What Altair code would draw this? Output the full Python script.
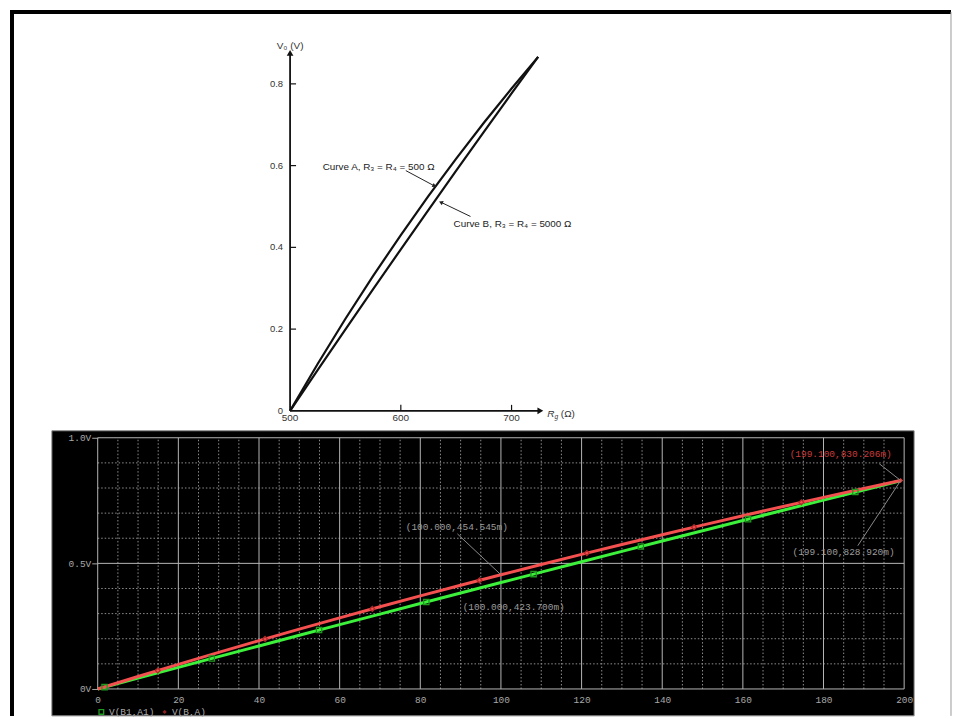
import altair as alt
import pandas as pd

# ---------------- upper panel: bridge output V0 vs gauge resistance
r_ohm = [500, 525, 550, 575, 600, 625, 650, 675, 700, 724]
curve_a = [0.0, 0.1154, 0.2253, 0.3302, 0.4302, 0.5258, 0.6172, 0.7048, 0.7887, 0.866]
curve_b = [0.0, 0.1002, 0.1994, 0.2978, 0.3952, 0.4918, 0.5876, 0.6825, 0.7766, 0.866]
top_x_ticks = [500, 600, 700]
top_y_ticks = [0.0, 0.2, 0.4, 0.6, 0.8]
top_y_labels = ["0", "0.2", "0.4", "0.6", "0.8"]
label_a = "Curve A, R\u2083 = R\u2084 = 500 \u03a9"
label_b = "Curve B, R\u2083 = R\u2084 = 5000 \u03a9"

# ---------------- lower panel: simulation traces
sim_x = [0, 10, 20, 30, 40, 50, 60, 70, 80, 90, 100, 110, 120, 130, 140, 150,
         160, 170, 180, 190, 199.1]
v_ba = [0, 0.0495, 0.0980, 0.1456, 0.1923, 0.2381, 0.2830, 0.3271, 0.3704, 0.4128,
        0.4545, 0.4955, 0.5357, 0.5752, 0.6140, 0.6522, 0.6897, 0.7265, 0.7627,
        0.7983, 0.8302]
v_b1a1 = [0, 0.0430, 0.0859, 0.1287, 0.1713, 0.2137, 0.2560, 0.2981, 0.3401, 0.3820,
          0.4237, 0.4652, 0.5066, 0.5479, 0.5890, 0.6299, 0.6707, 0.7114, 0.7519,
          0.7922, 0.8289]
b1a1_mark_x = [1.7, 28.3, 54.9, 81.5, 108.1, 134.7, 161.3, 187.9]
b1a1_mark_y = [0.0073, 0.1214, 0.2344, 0.3464, 0.4573, 0.5672, 0.6760, 0.7838]
ba_mark_x = [14.9, 41.5, 68.1, 94.7, 121.3, 147.9, 174.5]
ba_mark_y = [0.0734, 0.1992, 0.3188, 0.4325, 0.5409, 0.6442, 0.7429]
sim_x_ticks = [0, 20, 40, 60, 80, 100, 120, 140, 160, 180, 200]
sim_x_minor = [v for v in range(5, 200, 5) if v % 20 != 0]
sim_y_ticks = [0.0, 0.5, 1.0]
sim_y_minor = [0.1, 0.2, 0.3, 0.4, 0.6, 0.7, 0.8, 0.9]
cursor_labels = ["(100.000,454.545m)", "(100.000,423.700m)",
                 "(199.100,830.206m)", "(199.100,828.920m)"]
legend_names = ["V(B1,A1)", "V(B,A)"]

# ================= upper chart =================
SANS = "Liberation Sans"
xs_t = alt.Scale(domain=[326.3, 1054.5], nice=False, zero=False)
ys_t = alt.Scale(domain=[0, 0.878], nice=False, zero=False)


def TX(f):
    return alt.X(f, type="quantitative", scale=xs_t, axis=None)


def TY(f):
    return alt.Y(f, type="quantitative", scale=ys_t, axis=None)


frame_left = alt.Chart(pd.DataFrame({"r": [248.9], "v": [0.9756], "v2": [-0.7463]})).mark_rule(
    color="black", strokeWidth=4).encode(x=TX("r"), y=TY("v"), y2="v2")
frame_top = alt.Chart(pd.DataFrame({"r": [247.1], "r2": [1096.8], "v": [0.9756]})).mark_rule(
    color="black", strokeWidth=4).encode(x=TX("r"), x2="r2", y=TY("v"))
frame_right = alt.Chart(pd.DataFrame({"r": [1096.8], "v": [0.9756], "v2": [-0.7463]})).mark_rule(
    color="#9a9a9a", strokeWidth=1).encode(x=TX("r"), y=TY("v"), y2="v2")

curves_df = pd.DataFrame({"r": r_ohm * 2, "v": curve_a + curve_b,
                          "c": ["A"] * len(r_ohm) + ["B"] * len(r_ohm)})
curves = alt.Chart(curves_df).mark_line(color="#111", strokeWidth=2.2).encode(
    x=TX("r"), y=TY("v"), detail="c:N")

yaxis_line = alt.Chart(pd.DataFrame({"r": [500], "v": [0], "v2": [0.872]})).mark_rule(
    color="#111", strokeWidth=1.8).encode(x=TX("r"), y=TY("v"), y2="v2")
xaxis_line = alt.Chart(pd.DataFrame({"r": [500], "r2": [725], "v": [0]})).mark_rule(
    color="#111", strokeWidth=1.8).encode(x=TX("r"), x2="r2", y=TY("v"))
arrow_up = alt.Chart(pd.DataFrame({"r": [500], "v": [0.876]})).mark_point(
    shape="triangle-up", filled=True, color="#111", size=45, opacity=1).encode(x=TX("r"), y=TY("v"))
arrow_right = alt.Chart(pd.DataFrame({"r": [726], "v": [0]})).mark_point(
    shape="triangle-right", filled=True, color="#111", size=45, opacity=1).encode(x=TX("r"), y=TY("v"))

ytick_df = pd.DataFrame({"r": 500, "v": top_y_ticks[1:]})
yticks = alt.Chart(ytick_df).mark_rule(color="#111", strokeWidth=1.2, x2Offset=6).encode(
    x=TX("r"), x2="r", y=TY("v"))
xtick_df = pd.DataFrame({"r": top_x_ticks[1:], "v": 0})
xticks = alt.Chart(xtick_df).mark_rule(color="#111", strokeWidth=1.2, y2Offset=-6).encode(
    x=TX("r"), y=TY("v"), y2="v")

ylab = alt.Chart(pd.DataFrame({"r": 500, "v": top_y_ticks, "t": top_y_labels})).mark_text(
    align="right", baseline="middle", dx=-7, font=SANS, fontSize=9.5, color="#333").encode(
    x=TX("r"), y=TY("v"), text="t:N")
xlab = alt.Chart(pd.DataFrame({"r": top_x_ticks, "v": 0, "t": [str(t) for t in top_x_ticks]})).mark_text(
    align="center", baseline="middle", dy=7, font=SANS, fontSize=10, color="#333").encode(
    x=TX("r"), y=TY("v"), text="t:N")

title_v = alt.Chart(pd.DataFrame({"r": [500], "v": [0.893], "t": ["V\u2080 (V)"]})).mark_text(
    align="center", baseline="middle", font=SANS, fontSize=10, color="#333").encode(
    x=TX("r"), y=TY("v"), text="t:N")
title_r = alt.Chart(pd.DataFrame({"r": [732.2], "v": [-0.008], "t": ["R"]})).mark_text(
    align="left", baseline="middle", font=SANS, fontSize=10, fontStyle="italic", color="#333").encode(
    x=TX("r"), y=TY("v"), text="t:N")
title_r_sub = alt.Chart(pd.DataFrame({"r": [738.8], "v": [-0.008], "t": ["g"]})).mark_text(
    align="left", baseline="middle", dy=3, font=SANS, fontSize=6.5, fontStyle="italic", color="#333").encode(
    x=TX("r"), y=TY("v"), text="t:N")
title_r_unit = alt.Chart(pd.DataFrame({"r": [744.5], "v": [-0.008], "t": ["(\u03a9)"]})).mark_text(
    align="left", baseline="middle", font=SANS, fontSize=10, color="#333").encode(
    x=TX("r"), y=TY("v"), text="t:N")

ann_text = alt.Chart(pd.DataFrame({"r": [529.4, 647.6], "v": [0.5976, 0.4568],
                                   "t": [label_a, label_b]})).mark_text(
    align="left", baseline="middle", font=SANS, fontSize=9.9, color="#222").encode(
    x=TX("r"), y=TY("v"), text="t:N")
ann_lines = alt.Chart(pd.DataFrame({"r": [604.5, 662.9], "v": [0.5878, 0.4756],
                                    "r2": [630.0, 636.5], "v2": [0.5508, 0.5100]})).mark_rule(
    color="#222", strokeWidth=1).encode(x=TX("r"), y=TY("v"), x2="r2", y2="v2")
ann_heads = alt.Chart(pd.DataFrame({"r": [630.4, 636.2], "v": [0.5503, 0.5103],
                                    "a": [116.6, 295.8]})).mark_point(
    shape="triangle-up", filled=True, color="#222", size=22, opacity=1).encode(
    x=TX("r"), y=TY("v"), angle=alt.Angle("a:Q", scale=None))

top = alt.layer(frame_left, frame_top, frame_right, curves, yaxis_line, xaxis_line,
                arrow_up, arrow_right, yticks, xticks, ylab, xlab, title_v, title_r,
                title_r_sub, title_r_unit, ann_lines, ann_heads, ann_text).properties(
    width=809, height=360)

# ================= lower chart =================
MONO = "Liberation Mono"
xs_b = alt.Scale(domain=[0, 200], nice=False, zero=False)
ys_b = alt.Scale(domain=[0, 1], nice=False, zero=False)
AX_X = alt.Axis(values=sim_x_ticks, grid=False, domain=False, ticks=False, labelPadding=6,
                labelFont=MONO, labelFontSize=9.5, labelColor="#a8a8a8", title=None, zindex=1,
                labelFlush=False)
AX_Y = alt.Axis(values=sim_y_ticks, grid=False, domain=False, tickSize=6, tickColor="#a8a8a8",
                labelPadding=1, labelFont=MONO, labelFontSize=9.5, labelColor="#a8a8a8",
                title=None, zindex=1, labelFlush=False,
                labelExpr="datum.value == 0 ? '0V' : format(datum.value, '.1f') + 'V'")


def BX(f):
    return alt.X(f, type="quantitative", scale=xs_b, axis=AX_X)


def BY(f):
    return alt.Y(f, type="quantitative", scale=ys_b, axis=AX_Y)


panel = alt.Chart(pd.DataFrame({"x": [-11.37], "x2": [202.47], "y": [1.0278], "y2": [-0.1071]})).mark_rect(
    fill="black", stroke="#8c8c8c", strokeWidth=1).encode(x=BX("x"), x2="x2", y=BY("y"), y2="y2")

minor_v = alt.Chart(pd.DataFrame({"x": sim_x_minor, "y": 0, "y2": 1})).mark_rule(
    color="#8f8f8f", strokeWidth=1, strokeDash=[1.5, 2]).encode(x=BX("x"), y=BY("y"), y2="y2")
minor_h = alt.Chart(pd.DataFrame({"y": sim_y_minor, "x": 0, "x2": 200})).mark_rule(
    color="#8f8f8f", strokeWidth=1, strokeDash=[1.5, 2]).encode(y=BY("y"), x=BX("x"), x2="x2")
major_v = alt.Chart(pd.DataFrame({"x": sim_x_ticks, "y": 0, "y2": 1})).mark_rule(
    color="#b5b5b5", strokeWidth=1).encode(x=BX("x"), y=BY("y"), y2="y2")
major_h = alt.Chart(pd.DataFrame({"y": sim_y_ticks, "x": 0, "x2": 200})).mark_rule(
    color="#b5b5b5", strokeWidth=1).encode(y=BY("y"), x=BX("x"), x2="x2")

green_line = alt.Chart(pd.DataFrame({"x": sim_x, "y": v_b1a1})).mark_line(
    color="#3cf03c", strokeWidth=3).encode(x=BX("x"), y=BY("y"))
red_line = alt.Chart(pd.DataFrame({"x": sim_x, "y": v_ba})).mark_line(
    color="#f45050", strokeWidth=3).encode(x=BX("x"), y=BY("y"))
green_marks = alt.Chart(pd.DataFrame({"x": b1a1_mark_x, "y": b1a1_mark_y})).mark_point(
    shape="square", filled=False, color="#1f9a1f", strokeWidth=1.3, size=28, opacity=1).encode(
    x=BX("x"), y=BY("y"))
red_marks = alt.Chart(pd.DataFrame({"x": ba_mark_x, "y": ba_mark_y})).mark_point(
    shape="diamond", filled=False, color="#b02a2a", strokeWidth=1.3, size=24, opacity=1).encode(
    x=BX("x"), y=BY("y"))
end_mark = alt.Chart(pd.DataFrame({"x": [199.1], "y": [v_ba[-1]]})).mark_point(
    shape="diamond", filled=True, color="#e04040", size=26, opacity=1).encode(x=BX("x"), y=BY("y"))

leaders = alt.Chart(pd.DataFrame({"x": [89.2, 193.8, 188.5], "y": [0.6175, 0.897, 0.5702],
                                  "x2": [100.0, 199.1, 199.1],
                                  "y2": [v_ba[10], v_ba[-1], v_b1a1[-1]]})).mark_rule(
    color="#8a8a8a", strokeWidth=1).encode(x=BX("x"), y=BY("y"), x2="x2", y2="y2")

cur_df = pd.DataFrame({"x": [76.4, 90.5, 171.6, 172.3], "y": [0.643, 0.325, 0.9365, 0.5437],
                       "t": cursor_labels, "c": ["g", "g", "r", "g"]})
cursors = alt.Chart(cur_df).mark_text(align="left", baseline="middle", font=MONO,
                                       fontSize=9.5).encode(
    x=BX("x"), y=BY("y"), text="t:N",
    color=alt.Color("c:N", scale=alt.Scale(domain=["g", "r"], range=["#9c9c9c", "#c83c3c"]),
                    legend=None))

leg_y = -0.0913
leg_sym_g = alt.Chart(pd.DataFrame({"x": [0.9], "y": [leg_y]})).mark_point(
    shape="square", filled=False, color="#1f9a1f", strokeWidth=1.3, size=22, opacity=1).encode(
    x=BX("x"), y=BY("y"))
leg_sym_r = alt.Chart(pd.DataFrame({"x": [16.6], "y": [leg_y]})).mark_point(
    shape="diamond", filled=True, color="#8a2020", size=18, opacity=1).encode(x=BX("x"), y=BY("y"))
leg_text = alt.Chart(pd.DataFrame({"x": [2.8, 18.4], "y": [leg_y, leg_y], "t": legend_names})).mark_text(
    align="left", baseline="middle", font=MONO, fontSize=9.5, color="#a8a8a8").encode(
    x=BX("x"), y=BY("y"), text="t:N")

bottom = alt.layer(panel, minor_v, minor_h, major_v, major_h, green_line, red_line,
                   green_marks, red_marks, end_mark, leaders, cursors,
                   leg_sym_g, leg_sym_r, leg_text).properties(width=809, height=252)

chart = alt.vconcat(top, bottom, spacing=27, bounds="flush").properties(
    padding=0, background="white").configure_view(stroke=None)

chart.save("out.html", embed_options={"renderer": "svg", "actions": False})
